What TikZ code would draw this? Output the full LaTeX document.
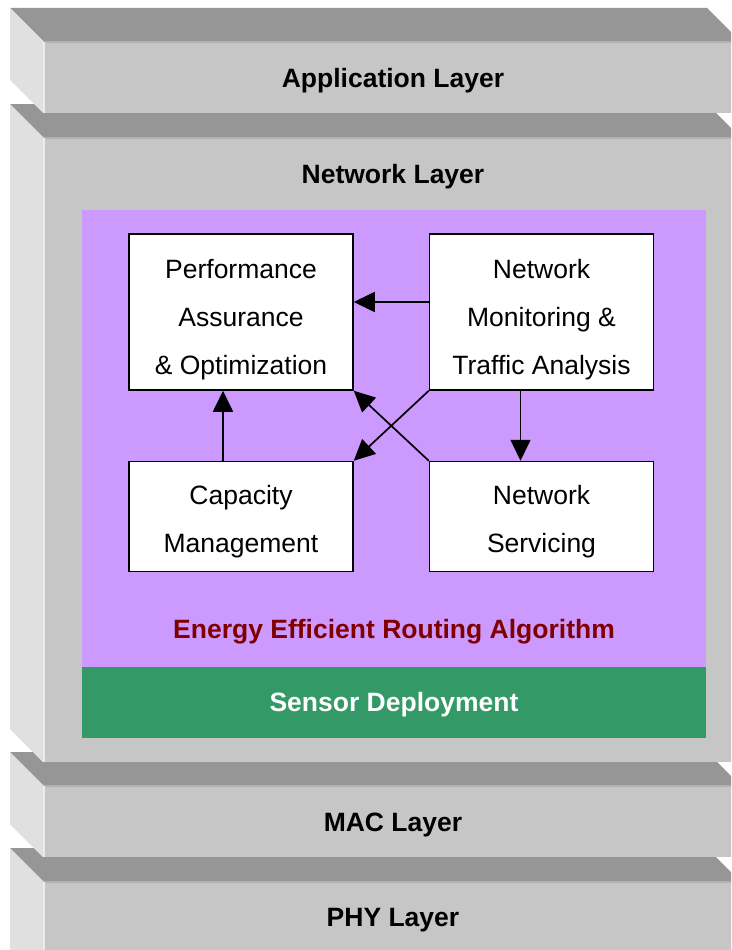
\documentclass[tikz,border=0pt]{standalone}
\usepackage{fontspec}
\setmainfont{Liberation Sans}
\usepackage{tikz}
\usetikzlibrary{positioning}
\usetikzlibrary {arrows.meta}
\definecolor{topgray}{HTML}{969696}
\definecolor{sidegray}{HTML}{E0E0E0}
\definecolor{frontgray}{HTML}{C6C6C6}
\definecolor{edgegray}{HTML}{B2B2B2}
\definecolor{algopurple}{HTML}{CC99FF}
\definecolor{deploygreen}{HTML}{339966}
\definecolor{algored}{HTML}{800000}
\tikzset{layerlabel/.style={font=\bfseries\fontsize{26.5}{32}\selectfont}}
\tikzset{taskbox/.style={rectangle,draw=black,fill=white,line width=1.5pt,
inner sep=0pt,minimum width=224pt}}
\tikzset{tasktext/.style={align=center,font=\fontsize{26.5}{48}\selectfont}}
\tikzset{flow/.style={line width=1.7pt,-{Triangle[length=21pt,width=20pt]}}}

\begin{document}
\begin{tikzpicture}[x=1pt,y=-1pt]
        \useasboundingbox (0,0) rectangle (731,950);
        \clip (0,0) rectangle (731,950);

        % slabs, lowest first
        \foreach \yb/\ybot in {848/990, 752/857, 104/762, 8/113} {
            \fill[topgray] (10,\yb) -- (707,\yb) -- (740,\yb+33) -- (43,\yb+33) -- cycle;
            \fill[sidegray] (10,\yb) -- (43,\yb+33) -- (43,\ybot) -- (10,\ybot-33) -- cycle;
            \fill[frontgray] (43,\yb+33) rectangle (760,\ybot);
            \draw[edgegray,line width=2pt] (44,\yb+34) -- (760,\yb+34);
            \draw[white!92!black,line width=2pt] (44,\yb+34) -- (44,\ybot);
        }

        \node[layerlabel] (labApp) at (393,81) {Application Layer};
        \node[layerlabel] (labNet) at (393,177) {Network Layer};
        \node[layerlabel] (labMAC) at (393,825) {MAC Layer};
        \node[layerlabel] (labPHY) at (393,920) {PHY Layer};

        \node[fill=algopurple,minimum width=624pt,minimum height=457pt,inner sep=0pt] (algo) at (394,438.5) {};
        \node[fill=deploygreen,minimum width=624pt,minimum height=71pt,inner sep=0pt] (deploy) at (394,702.5) {};
        \node[layerlabel,text=white] (deployText) at (394,704.5) {Sensor Deployment};
        \node[layerlabel,text=algored] (algoText) at (394,632) {Energy Efficient Routing Algorithm};

        \node[taskbox,minimum height=156pt] (boxPA) at (241,312) {};
        \node[taskbox,minimum height=156pt] (boxNM) [right=75pt of boxPA] {};
        \node[taskbox,minimum height=110pt] (boxCM) [below=70pt of boxPA] {};
        \node[taskbox,minimum height=110pt] (boxNS) [below=70pt of boxNM] {};

        \node[tasktext] (txtPA) at ([yshift=-8pt]boxPA) {Performance\\Assurance\\\& Optimization};
        \node[tasktext] (txtNM) at ([yshift=-8pt]boxNM) {Network\\Monitoring \&\\Traffic Analysis};
        \node[tasktext] (txtCM) at ([yshift=-5pt]boxCM) {Capacity\\Management};
        \node[tasktext] (txtNS) at ([yshift=-5pt]boxNS) {Network\\Servicing};

        \draw[flow] ([yshift=10pt]boxNM.west) -- ([yshift=10pt]boxPA.east);
        \draw[flow] ([xshift=-18pt]boxCM.north) -- ([xshift=-18pt]boxPA.south);
        \draw[flow] ([xshift=-21pt]boxNM.south) -- ([xshift=-21pt]boxNS.north);
        \draw[flow] (boxNM.south west) -- (boxCM.north east);
        \draw[flow] (boxNS.north west) -- (boxPA.south east);

    \end{tikzpicture}
\end{document}
